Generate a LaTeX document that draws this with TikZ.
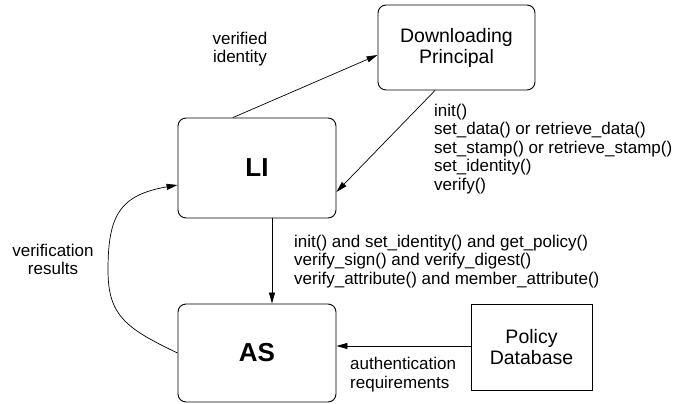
\documentclass[tikz,border=0pt]{standalone}
\usepackage{fontspec}
\setmainfont{Liberation Sans}
\usetikzlibrary{arrows.meta}
\begin{document}
\begin{tikzpicture}[x=1pt,y=-1pt,
  box/.style={draw,line width=0.9pt,rounded corners=8pt,inner sep=0pt,font=\fontsize{26}{28}\selectfont\bfseries},
  plainbox/.style={draw,line width=0.9pt,inner sep=0pt,align=center,font=\fontsize{19.5}{21}\selectfont},
  lbl/.style={inner sep=0pt,font=\fontsize{17}{18.5}\selectfont},
  conn/.style={line width=0.7pt,-{Triangle[length=11pt,width=6pt]}}]
\useasboundingbox (0,0) rectangle (673,404);
\node[box,minimum width=158pt,minimum height=100pt] (LI) at (257,168) {LI};
\node[box,minimum width=158pt,minimum height=98pt] (AS) at (257,353) {AS};
\node[plainbox,rounded corners=8pt,minimum width=157pt,minimum height=85pt] (DP) at (456.5,47.5) {Downloading\\Principal};
\node[plainbox,minimum width=121pt,minimum height=86pt] (PD) at (531.5,347) {Policy\\Database};
\node[lbl,align=center] (vi) at (240,49) {verified\\identity};
\node[lbl,align=left,anchor=west] (m1) at (434,149) {init()\\set\_data() or retrieve\_data()\\set\_stamp() or retrieve\_stamp()\\set\_identity()\\verify()};
\node[lbl,align=left,anchor=west] (m2) at (294,261.5) {init() and set\_identity() and get\_policy()\\verify\_sign() and verify\_digest()\\verify\_attribute() and member\_attribute()};
\node[lbl,align=center] (vr) at (53,259.5) {verification\\results};
\node[lbl,align=left,anchor=west] (ar) at (350,374.5) {authentication\\requirements};
\draw[conn] (233,0 |- LI.north) -- (DP.west |- 0,55);
\draw[conn] (435,0 |- DP.south) -- (LI.east |- 0,192);
\draw[conn] (272,0 |- LI.south) -- (272,0 |- AS.north);
\draw[conn] (PD.west |- 0,346) -- (AS.east |- 0,346);
\draw[conn] (AS.west) .. controls (125,328) and (108,315) .. (108,270)
  .. controls (108,215) and (120,195) .. (LI.west |- 0,185);
\end{tikzpicture}
\end{document}
